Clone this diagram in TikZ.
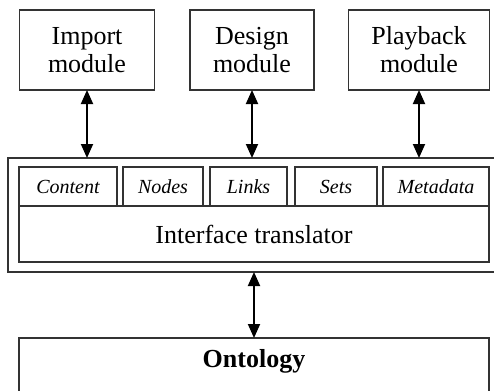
\documentclass[tikz,border=0pt]{standalone}
\usepackage{fontspec}
\setmainfont{Liberation Serif}
\usetikzlibrary{arrows.meta}

\begin{document}
\begin{tikzpicture}[x=0.5pt, y=-0.5pt, >={Triangle[length=7pt,width=6pt]},
    every node/.style={inner sep=0pt, outer sep=0pt},
    box/.style={draw=black!80, line width=0.9pt, align=center, font=\fontsize{13}{14}\selectfont},
    tab/.style={box, minimum height=19.5pt, font=\fontsize{10}{12}\selectfont\itshape},
    link/.style={<->, line width=0.9pt}]
    \useasboundingbox (0,0) rectangle (494,391);

    % modules
    \node[box, minimum width=67.5pt, minimum height=40pt] (imp) at (87,50) {Import\\module};
    \node[box, minimum width=62pt, minimum height=40pt] (des) at (252,50) {Design\\module};
    \node[box, minimum width=70.5pt, minimum height=40pt] (play) at (419,50) {Playback\\module};

    % interface layer
    \node[box, minimum width=246pt, minimum height=57pt] (iface) at (254,215) {};
    \node[tab, minimum width=49pt] (content) at (68,186.5) {Content};
    \node[tab, minimum width=40pt] (nodes) at (163,186.5) {Nodes};
    \node[tab, minimum width=38.5pt] (links) at (248.5,186.5) {Links};
    \node[tab, minimum width=41pt] (sets) at (336,186.5) {Sets};
    \node[tab, minimum width=53pt] (meta) at (436,186.5) {Metadata};
    \node[box, minimum width=235pt, minimum height=28pt] (trans) at (254,234) {Interface translator};

    \node[box, anchor=north, minimum width=235pt, inner ysep=3pt, text height=11.5pt,
        text depth=30pt, font=\fontsize{13}{14}\selectfont\bfseries] (onto) at (254,338) {Ontology};

    \draw[link] (imp) -- (imp |- iface.north);
    \draw[link] (des) -- (des |- iface.north);
    \draw[link] (play) -- (play |- iface.north);
    \draw[link] (iface.south) -- (onto.north);
\end{tikzpicture}
\end{document}
